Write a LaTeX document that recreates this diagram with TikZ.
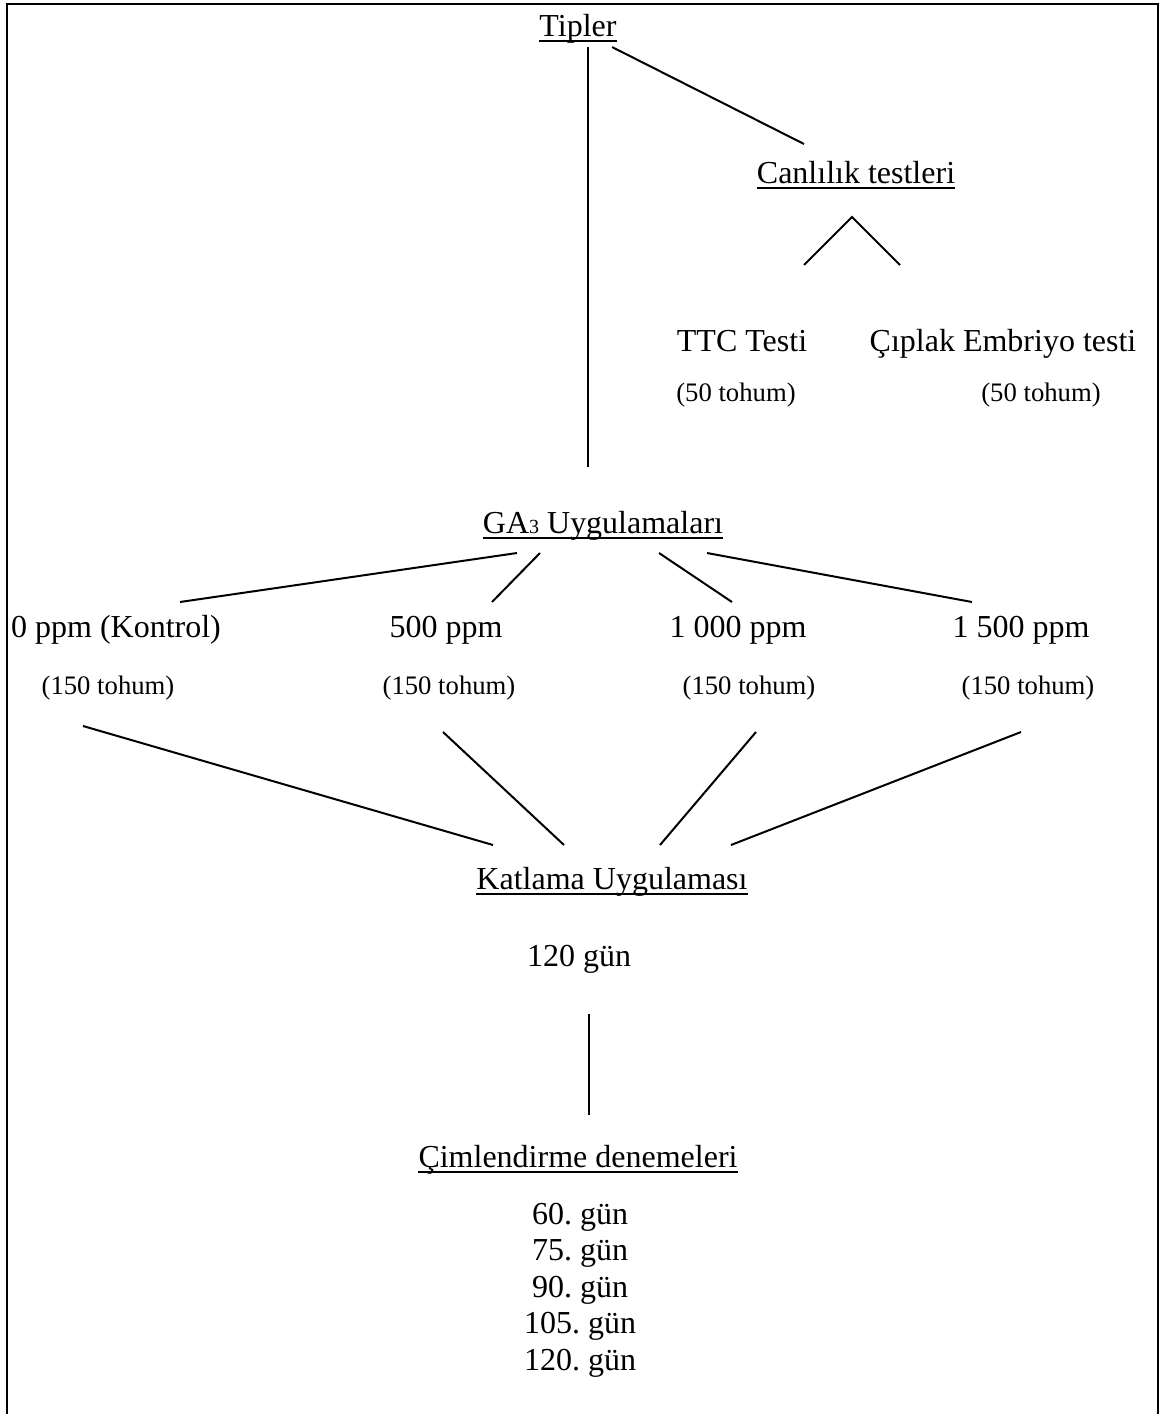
\documentclass[tikz,border=0pt]{standalone}
\usepackage{fontspec}
\setmainfont{Liberation Serif}
\frenchspacing

\begin{document}
\begin{tikzpicture}[x=1pt,y=-1pt,
	baslik/.style={anchor=base,inner sep=0pt,font=\fontsize{32}{38}\selectfont},
	adet/.style={anchor=base,inner sep=0pt,font=\fontsize{26.7}{32}\selectfont},
	hat/.style={line width=2pt},
	altcizgi/.style={line width=2pt}]

\useasboundingbox (0,0) rectangle (1162,1414);

%frame (open at the bottom)
\draw [line width=2.6pt] (7,1414) -- (7,4) -- (1158,4) -- (1158,1414);

%titles
\node [baslik] (tipler) at (578,36) {Tipler};
\node [baslik] (canli) at (856,183) {Canlılık testleri};
\node [baslik] (ttc) at (742,351) {TTC Testi};
\node [baslik] (ciplak) at (1003,351) {Çıplak Embriyo testi};
\node [adet] (ttcn) at (736,401) {(50 tohum)};
\node [adet] (ciplakn) at (1041,401) {(50 tohum)};

\node [baslik] (ga) at (603,533) {GA{\fontsize{20}{24}\selectfont 3} Uygulamaları};

% doses
\node [baslik] (p0) at (116,637) {0 ppm (Kontrol)};
\node [baslik] (p500) at (446,637) {500 ppm};
\node [baslik] (p1000) at (738,637) {1 000 ppm};
\node [baslik] (p1500) at (1021,637) {1 500 ppm};
\node [adet] (n0) at (108,694) {(150 tohum)};
\node [adet] (n500) at (449,694) {(150 tohum)};
\node [adet] (n1000) at (749,694) {(150 tohum)};
\node [adet] (n1500) at (1028,694) {(150 tohum)};

\node [baslik] (katlama) at (612,889) {Katlama Uygulaması};
\node [baslik] (sure) at (579,966) {120 gün};
\node [baslik] (cimlen) at (578,1167) {Çimlendirme denemeleri};

\foreach \d [count=\i] in {60,75,90,105,120}
	\node [baslik] (gun\i) at (580,{1224+36.5*(\i-1)}) {\d. gün};

%underlines
\foreach \n in {tipler,canli,ga,katlama,cimlen}
	\draw [altcizgi] ([yshift=-5pt]\n.base west) -- ([yshift=-5pt]\n.base east);

\begin{scope}[hat]
	% from Tipler
	\draw ([shift={(10,11)}]tipler.base) -- ([shift={(-15,-66)}]ga.base);
	\draw ([shift={(34,11)}]tipler.base) -- ([shift={(-52,-39)}]canli.base);
	
	% from Canlilik testleri
	\draw ([shift={(62,-86)}]ttc.base) -- ([shift={(-4,34)}]canli.base)
		-- ([shift={(-103,-86)}]ciplak.base);
	
	% from GA3
	\draw ([shift={(-86,20)}]ga.base) -- ([shift={(64,-35)}]p0.base);
	\draw ([shift={(-63,20)}]ga.base) -- ([shift={(46,-35)}]p500.base);
	\draw ([shift={(56,20)}]ga.base) -- ([shift={(-6,-35)}]p1000.base);
	\draw ([shift={(104,20)}]ga.base) -- ([shift={(-49,-35)}]p1500.base);
	
	% to Katlama
	\draw ([shift={(-25,32)}]n0.base) -- ([shift={(-119,-44)}]katlama.base);
	\draw ([shift={(-6,38)}]n500.base) -- ([shift={(-48,-44)}]katlama.base);
	\draw ([shift={(7,38)}]n1000.base) -- ([shift={(48,-44)}]katlama.base);
	\draw ([shift={(-7,38)}]n1500.base) -- ([shift={(119,-44)}]katlama.base);
	
	% to Cimlendirme
	\draw ([shift={(10,48)}]sure.base) -- ([shift={(11,-52)}]cimlen.base);
\end{scope}

\end{tikzpicture}
\end{document}
